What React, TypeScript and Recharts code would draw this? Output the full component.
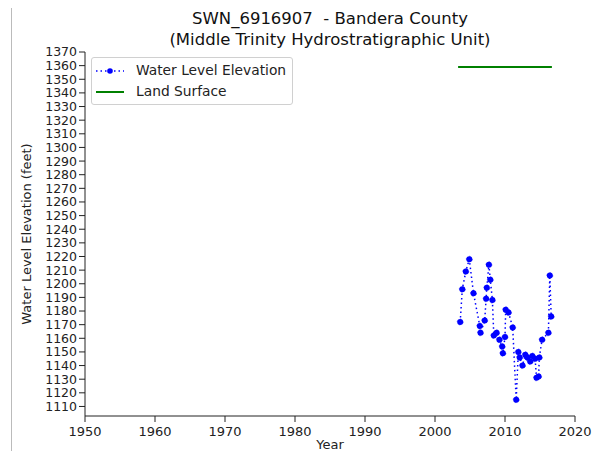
import { LineChart, Line, XAxis, YAxis } from 'recharts';

// water level readings (year, feet)
const years = [
  2003.6, 2003.9, 2004.4, 2004.9, 2005.5, 2006.4, 2006.5, 2007.1, 2007.3, 2007.4,
  2007.7, 2007.9, 2008.2, 2008.4, 2008.8, 2009.2, 2009.6, 2009.7, 2010.0, 2010.1,
  2010.5, 2011.1, 2011.6, 2011.9, 2012.1, 2012.5, 2012.9, 2013.2, 2013.6, 2013.9,
  2014.3, 2014.5, 2014.8, 2014.9, 2015.3, 2016.2, 2016.4, 2016.6,
];
const levels = [
  1172, 1196, 1209, 1218, 1193, 1169, 1164, 1173, 1189, 1197,
  1214, 1203, 1188, 1162, 1164, 1159, 1154, 1149, 1161, 1181,
  1179, 1168, 1115, 1150, 1146, 1140, 1148, 1146, 1143, 1147,
  1145, 1131, 1132, 1146, 1159, 1164, 1206, 1176,
];

const landYears = [2003.3, 2016.7];
const landLevels = [1359, 1359];

const xTicks = [1950, 1960, 1970, 1980, 1990, 2000, 2010, 2020];
const yTicks = Array.from({ length: 27 }, (_, i) => 1110 + i * 10);

const waterData = years.map((year, i) => ({ year, level: levels[i] }));
const landData = landYears.map((year, i) => ({ year, level: landLevels[i] }));

const font = 'DejaVu Sans, sans-serif';

const ChartLegend = () => (
  <div
    style={{
      position: 'absolute',
      left: 91,
      top: 57,
      border: '1px solid #d0d0d0',
      borderRadius: 3,
      background: 'white',
      padding: '2px 6px 2px 3px',
      fontFamily: font,
      fontSize: 13.8,
      color: '#222',
      lineHeight: '21px',
    }}
  >
    <div style={{ display: 'flex', alignItems: 'center' }}>
      <svg width={30} height={10} style={{ marginRight: 11 }}>
        <line x1={1} y1={5} x2={29} y2={5} stroke="blue" strokeWidth={1.5} strokeDasharray="1.5 3" />
        <circle cx={15} cy={5} r={2.8} fill="blue" />
      </svg>
      Water Level Elevation
    </div>
    <div style={{ display: 'flex', alignItems: 'center' }}>
      <svg width={30} height={10} style={{ marginRight: 11 }}>
        <line x1={1} y1={5} x2={29} y2={5} stroke="green" strokeWidth={2} />
      </svg>
      Land Surface
    </div>
  </div>
);

const App = () => {
  return (
    <div style={{ position: 'relative', width: 603, height: 459, margin: -8, background: 'white', overflow: 'hidden' }}>
      <div style={{ position: 'absolute', left: 11, top: 8, bottom: 0, borderLeft: '1px solid #bbb' }} />
      <div
        style={{
          position: 'absolute',
          left: 85,
          width: 490,
          top: 8,
          textAlign: 'center',
          fontFamily: font,
          fontSize: 16.5,
          lineHeight: '21px',
          color: '#111',
        }}
      >
        <div>SWN_6916907&nbsp; - Bandera County</div>
        <div>(Middle Trinity Hydrostratigraphic Unit)</div>
      </div>
      <LineChart width={603} height={459} margin={{ top: 52, right: 28, bottom: 0, left: 0 }}>
        <XAxis
          dataKey="year"
          type="number"
          domain={[1950, 2020]}
          ticks={xTicks}
          allowDataOverflow
          height={43}
          tickMargin={5}
          stroke="#222"
          tick={{ fill: '#222', fontSize: 13, fontFamily: font }}
        />
        <XAxis xAxisId="top" orientation="top" dataKey="year" type="number" domain={[1950, 2020]} height={0} tick={false} tickLine={false} stroke="#222" />
        <YAxis
          dataKey="level"
          type="number"
          domain={[1103, 1370]}
          ticks={yTicks}
          interval={0}
          allowDataOverflow
          width={85}
          stroke="#222"
          tick={{ fill: '#222', fontSize: 12.5, fontFamily: font }}
          label={{
            value: 'Water Level Elevation (feet)',
            angle: -90,
            position: 'insideLeft',
            offset: 26,
            style: { textAnchor: 'middle' },
            fill: '#222',
            fontSize: 13,
            fontFamily: font,
          }}
        />
        <YAxis yAxisId="right" orientation="right" domain={[1103, 1370]} width={0} tick={false} tickLine={false} stroke="#222" />
        <Line
          data={waterData}
          dataKey="level"
          stroke="blue"
          strokeWidth={1.5}
          strokeDasharray="1.5 3"
          dot={{ r: 3, fill: 'blue', stroke: 'blue', strokeWidth: 0.5 }}
          isAnimationActive={false}
        />
        <Line
          data={landData}
          dataKey="level"
          stroke="green"
          strokeWidth={2}
          dot={false}
          isAnimationActive={false}
        />
      </LineChart>
      <div
        style={{
          position: 'absolute',
          left: 85,
          width: 490,
          top: 437,
          textAlign: 'center',
          fontFamily: font,
          fontSize: 13,
          lineHeight: '15px',
          color: '#222',
        }}
      >
        Year
      </div>
      <ChartLegend />
    </div>
  );
};

export default App;
